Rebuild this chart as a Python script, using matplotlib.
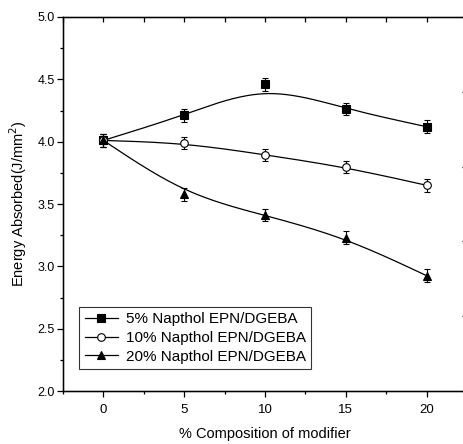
import numpy as np
import matplotlib.pyplot as plt
from matplotlib.ticker import MultipleLocator

plt.rcParams['font.family'] = ['Liberation Sans', 'DejaVu Sans']

# composition of modifier (%)
composition = [0, 5, 10, 15, 20]

# energy absorbed (J/mm^2) for each series
energy_5 = [4.01, 4.21, 4.46, 4.26, 4.12]
energy_10 = [4.01, 3.99, 3.895, 3.795, 3.65]
energy_20 = [4.01, 3.577, 3.41, 3.23, 2.925]
err_5 = [0.05, 0.05, 0.05, 0.05, 0.05]
err_10 = [0.05, 0.05, 0.05, 0.05, 0.05]
err_20 = [0.05, 0.05, 0.05, 0.05, 0.05]

labels = ['5% Napthol EPN/DGEBA', '10% Napthol EPN/DGEBA', '20% Napthol EPN/DGEBA']


def bspline(x, y, n=60):
    # uniform cubic B-spline using the data as control points (ends pinned)
    px = np.concatenate([[2 * x[0] - x[1]], x, [2 * x[-1] - x[-2]]])
    py = np.concatenate([[2 * y[0] - y[1]], y, [2 * y[-1] - y[-2]]])
    xs, ys = [], []
    t = np.linspace(0, 1, n)
    b0 = (1 - t) ** 3 / 6
    b1 = (3 * t ** 3 - 6 * t ** 2 + 4) / 6
    b2 = (-3 * t ** 3 + 3 * t ** 2 + 3 * t + 1) / 6
    b3 = t ** 3 / 6
    for i in range(len(px) - 3):
        xs.append(b0 * px[i] + b1 * px[i + 1] + b2 * px[i + 2] + b3 * px[i + 3])
        ys.append(b0 * py[i] + b1 * py[i + 1] + b2 * py[i + 2] + b3 * py[i + 3])
    return np.concatenate(xs), np.concatenate(ys)


fig = plt.figure(figsize=(4.64, 4.44), dpi=100)
ax = fig.add_axes([63 / 464, 1 - 391 / 444, 404 / 464, 374 / 444])

series = [(energy_5, err_5, 's', 'black'),
          (energy_10, err_10, 'o', 'white'),
          (energy_20, err_20, '^', 'black')]

x = np.array(composition, dtype=float)
for (vals, errs, mk, fc), lab in zip(series, labels):
    y = np.array(vals)
    sx, sy = bspline(x, y)
    ax.plot(sx, sy, color='black', lw=0.9, zorder=2)
    ax.errorbar(x, y, yerr=errs, fmt='none', ecolor='black', elinewidth=0.8,
                capsize=2.5, capthick=0.8, zorder=3)
    ax.plot(x, y, linestyle='none', marker=mk, markersize=5.5, markerfacecolor=fc,
            markeredgecolor='black', markeredgewidth=0.8, zorder=4)
    ax.plot([], [], color='black', lw=0.9, marker=mk, markersize=5.5,
            markerfacecolor=fc, markeredgecolor='black', markeredgewidth=0.8, label=lab)

ax.set_xlim(-2.5, 22.5)
ax.set_ylim(2.0, 5.0)
ax.xaxis.set_major_locator(MultipleLocator(5))
ax.xaxis.set_minor_locator(MultipleLocator(2.5))
ax.yaxis.set_major_locator(MultipleLocator(0.5))
ax.yaxis.set_minor_locator(MultipleLocator(0.25))
ax.tick_params(which='major', direction='out', length=4, width=0.9, labelsize=9, pad=2)
ax.tick_params(axis='x', which='major', labelsize=9.5, pad=5)
ax.tick_params(which='minor', direction='out', length=2.2, width=0.9)
ax.set_yticklabels([f'{v:.1f}' for v in ax.get_yticks()])

for s in ax.spines.values():
    s.set_linewidth(1.0)

# top and right axes (ticks only)
axt = ax.twiny()
axt.set_xlim(-2.5, 22.5)
axt.xaxis.set_major_locator(MultipleLocator(2.5))
axt.tick_params(axis='x', direction='in', length=3.5, width=0.9, labeltop=False)
axr = ax.twinx()
axr.set_ylim(0, 5)
axr.yaxis.set_major_locator(MultipleLocator(1))
axr.yaxis.set_minor_locator(MultipleLocator(0.5))
axr.tick_params(axis='y', which='major', direction='in', length=3.5, width=0.9, labelright=False)
axr.tick_params(axis='y', which='minor', direction='in', length=2, width=0.6)

ax.set_xlabel('% Composition of modifier', fontsize=10.5, labelpad=8)
ax.set_ylabel('Energy Absorbed(J/mm$^2$)', fontsize=10.5, labelpad=6)

leg = ax.legend(loc='lower left', bbox_to_anchor=(0.04, 0.059), borderaxespad=0,
                fontsize=11, frameon=True, fancybox=False, edgecolor='black',
                handlelength=2.2, handletextpad=0.5, labelspacing=0.3, borderpad=0.35)
leg.get_frame().set_linewidth(0.8)

fig.savefig('out.png', dpi=100)
